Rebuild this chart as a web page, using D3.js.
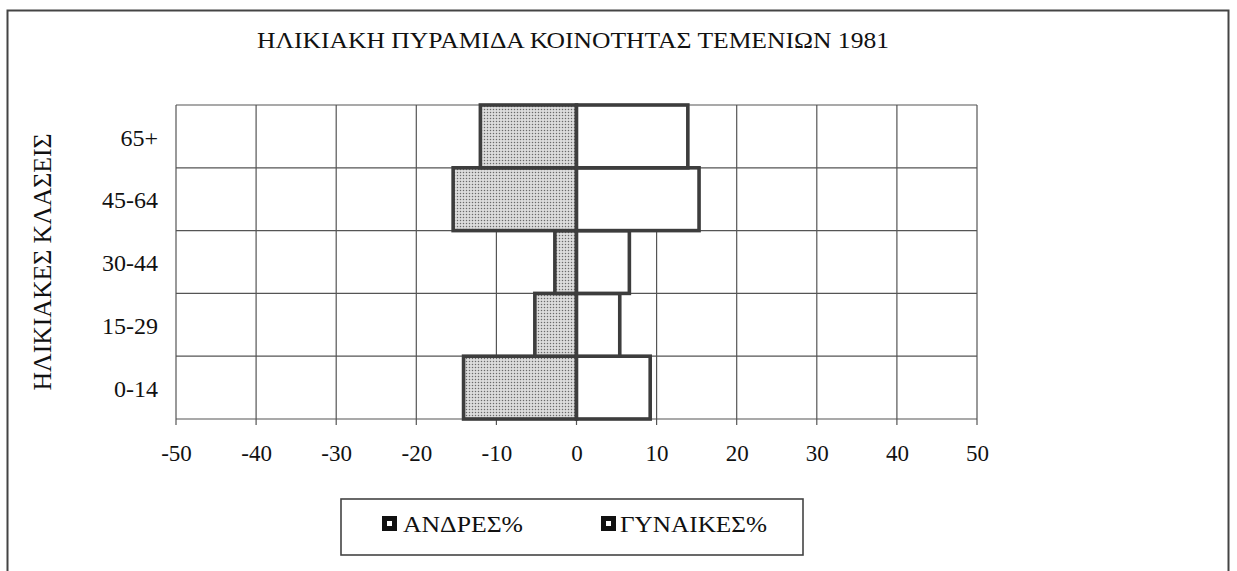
<!DOCTYPE html>
<html>
<head>
<meta charset="utf-8">
<script src="https://cdn.jsdelivr.net/npm/d3@7"></script>
<style>
  html, body { margin: 0; padding: 0; background: #fff; }
  svg { display: block; }
  text { font-family: "Liberation Serif", "Times New Roman", serif; fill: #111; }
</style>
</head>
<body>
<svg id="chart" width="1237" height="571"></svg>
<script>
// Age classes, bottom to top
const categories = ["0-14", "15-29", "30-44", "45-64", "65+"];
// Men drawn to the left (negative), women to the right
const men   = [-14.1, -5.2, -2.7, -15.4, -12.0];
const women = [9.2, 5.4, 6.6, 15.3, 13.9];
const xTicks = [-50, -40, -30, -20, -10, 0, 10, 20, 30, 40, 50];
const seriesNames = ["ΑΝΔΡΕΣ%", "ΓΥΝΑΙΚΕΣ%"];
const title = "ΗΛΙΚΙΑΚΗ ΠΥΡΑΜΙΔΑ ΚΟΙΝΟΤΗΤΑΣ ΤΕΜΕΝΙΩΝ 1981";
const yTitle = "ΗΛΙΚΙΑΚΕΣ ΚΛΑΣΕΙΣ";

const svg = d3.select("#chart");
const plot = { left: 176, right: 977, top: 105, bottom: 419 };
const ink = "#444";

// dotted fill for the left-hand bars
const defs = svg.append("defs");
const pat = defs.append("pattern")
  .attr("id", "dots").attr("patternUnits", "userSpaceOnUse")
  .attr("width", 3).attr("height", 3);
pat.append("rect").attr("width", 3).attr("height", 3).attr("fill", "#dcdcdc");
pat.append("circle").attr("cx", 1.5).attr("cy", 1.5).attr("r", 0.75).attr("fill", "#6a6a6a");

// outer frame
svg.append("rect")
  .attr("x", 7.5).attr("y", 10.5).attr("width", 1221).attr("height", 620)
  .attr("fill", "none").attr("stroke", ink).attr("stroke-width", 2);

const x = d3.scaleLinear().domain([-50, 50]).range([plot.left, plot.right]);
const y = d3.scaleBand().domain(categories.slice().reverse())
  .range([plot.top, plot.bottom]).padding(0);

// title
svg.append("text")
  .attr("x", 573).attr("y", 48)
  .attr("text-anchor", "middle")
  .attr("font-size", 24)
  .attr("textLength", 632).attr("lengthAdjust", "spacingAndGlyphs")
  .text(title);

// grid
const grid = svg.append("g").attr("stroke", "#555").attr("stroke-width", 1.2);
grid.selectAll("line.v").data(xTicks).join("line")
  .attr("class", "v")
  .attr("x1", d => x(d)).attr("x2", d => x(d))
  .attr("y1", plot.top).attr("y2", plot.bottom + 6);
const hLines = categories.map(c => y(c)).concat([plot.bottom]);
grid.selectAll("line.h").data(hLines).join("line")
  .attr("class", "h")
  .attr("x1", plot.left).attr("x2", plot.right)
  .attr("y1", d => d).attr("y2", d => d);

// x axis labels (plain hyphen for negatives)
const xAxis = svg.append("g")
  .attr("transform", `translate(0,${plot.bottom})`)
  .call(d3.axisBottom(x).tickValues(xTicks).tickSize(0).tickFormat(d => String(d)));
xAxis.select(".domain").remove();
xAxis.selectAll("text")
  .attr("y", 42).attr("dy", 0)
  .attr("font-size", 23)
  .attr("font-family", "Liberation Serif")
  .attr("fill", "#111");

// category labels
const yAxis = svg.append("g")
  .attr("transform", `translate(${plot.left},0)`)
  .call(d3.axisLeft(y).tickSize(0).tickPadding(18));
yAxis.select(".domain").remove();
yAxis.selectAll("text")
  .attr("font-size", 24)
  .attr("font-family", "Liberation Serif")
  .attr("fill", "#111")
  .attr("dy", "0.38em");

// rotated axis title
svg.append("text")
  .attr("transform", "translate(51,262) rotate(-90)")
  .attr("text-anchor", "middle")
  .attr("font-size", 26)
  .attr("textLength", 257).attr("lengthAdjust", "spacingAndGlyphs")
  .text(yTitle);

// bars
const bars = svg.append("g").attr("stroke", "#3d3d3d").attr("stroke-width", 3.6)
  .attr("stroke-linejoin", "miter");
bars.selectAll("rect.m").data(categories).join("rect")
  .attr("class", "m")
  .attr("x", (c, i) => x(men[i])).attr("width", (c, i) => x(0) - x(men[i]))
  .attr("y", c => y(c)).attr("height", y.bandwidth())
  .attr("fill", "url(#dots)");
bars.selectAll("rect.w").data(categories).join("rect")
  .attr("class", "w")
  .attr("x", x(0)).attr("width", (c, i) => x(women[i]) - x(0))
  .attr("y", c => y(c)).attr("height", y.bandwidth())
  .attr("fill", "#fff");

// legend
const lg = svg.append("g");
lg.append("rect")
  .attr("x", 341).attr("y", 499).attr("width", 462).attr("height", 56)
  .attr("fill", "#fff").attr("stroke", ink).attr("stroke-width", 1.6);
const legendItems = [
  { name: seriesNames[0], mx: 382, tx: 403, w: 120 },
  { name: seriesNames[1], mx: 601, tx: 620, w: 147 }
];
legendItems.forEach(it => {
  lg.append("rect")
    .attr("x", it.mx + 2.5).attr("y", 518.5).attr("width", 10).attr("height", 10)
    .attr("fill", "#fff").attr("stroke", "#111").attr("stroke-width", 5);
  lg.append("text")
    .attr("x", it.tx).attr("y", 532)
    .attr("font-size", 23)
    .attr("textLength", it.w).attr("lengthAdjust", "spacingAndGlyphs")
    .text(it.name);
});
</script>
</body>
</html>
